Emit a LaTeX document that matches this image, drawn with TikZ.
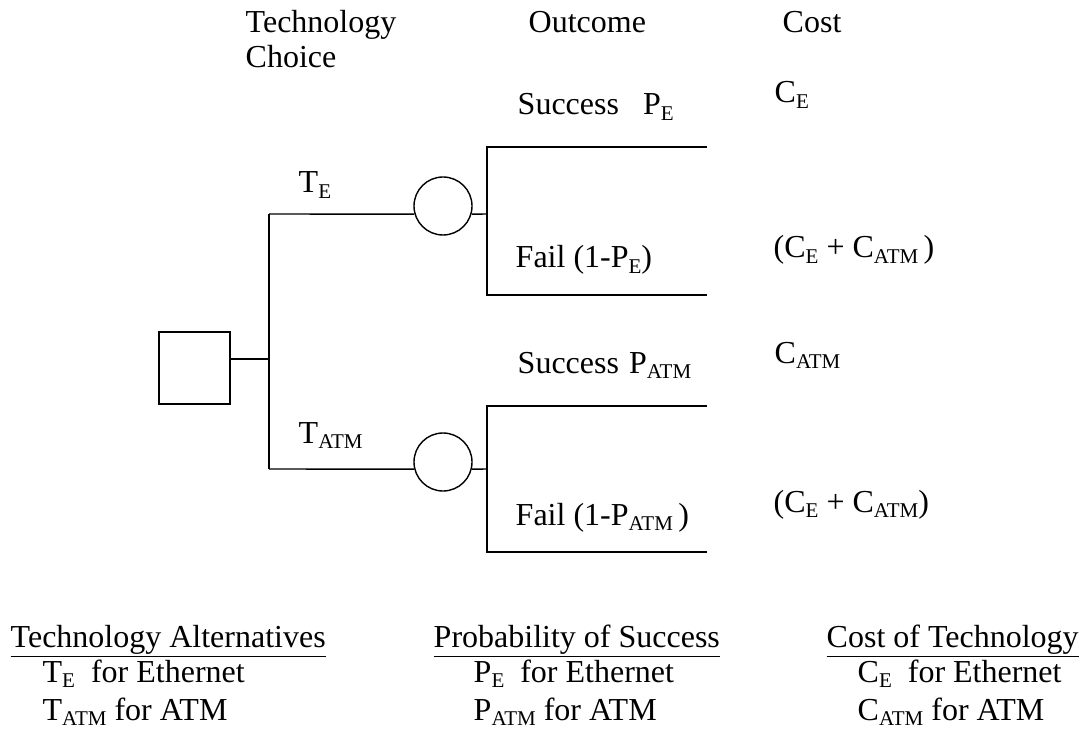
\documentclass[tikz,border=0pt]{standalone}
\usepackage{fontspec}
\setmainfont{Liberation Serif}
\usetikzlibrary{positioning}
\newcommand{\lo}[1]{\raisebox{-0.35ex}{\fontsize{10.5}{10.5}\selectfont #1}}
\begin{document}
\begin{tikzpicture}[x=0.5pt, y=-0.5pt, line width=0.7pt,
	every node/.style={font=\fontsize{16}{19}\selectfont, inner sep=0pt},
	txt/.style={anchor=base west},
	decision/.style={draw, rectangle, minimum width=35.5pt, minimum height=36pt},
	chance/.style={draw, circle, minimum size=29pt}]
	\useasboundingbox (0,0) rectangle (1085,732);
	
	% 1. decision and chance nodes
	\node[decision] (dec) at (194.5,368) {};
	\node[chance] (chE) at (443,206) {};
	\node[chance] (chA) at (443,462) {};
	
	\coordinate (fork) at (269,359);
	\coordinate (forkE) at (269,214);
	\coordinate (forkA) at (269,469);
	\coordinate (splitE) at (487,214);
	\coordinate (splitA) at (487,469);
	\coordinate (winE) at (487,147);
	\coordinate (failE) at (487,295);
	\coordinate (winA) at (487,406);
	\coordinate (failA) at (487,552);
	\coordinate (endx) at (707,0);
	
	% 2. branches
	\draw (fork -| dec.east) -- (fork);
	\draw (forkE) -- (forkA);
	\draw (forkE) -- (chE.196);
	\draw (forkA) -- (chA.194);
	\draw (chE.-16) -- (splitE);
	\draw (chA.-14) -- (splitA);
	\draw (winE -| endx) -- (winE) -- (failE) -- (failE -| endx);
	\draw (winA -| endx) -- (winA) -- (failA) -- (failA -| endx);
	
	% 3. column heads
	\node[txt] (hdTech) at (245,33) {Technology};
	\node[txt] (hdChoice) at (245,68) {Choice};
	\node[txt] (hdOut) at (528,33) {Outcome};
	\node[txt] (hdCost) at (782,33) {Cost};
	
	% 4. branch labels and costs
	\node[txt] (lbTE) at (298,193) {T\lo{E}};
	\node[txt] (lbTA) at (298,443) {T\lo{ATM}};
	\node[txt] (lbWinE) at (517,115) {Success\hspace{12pt}P\lo{E}};
	\node[txt] (lbFailE) at (515,268) {Fail (1-P\lo{E})};
	\node[txt] (lbWinA) at (517,373) {Success\hspace{5pt}P\lo{ATM}};
	\node[txt] (lbFailA) at (515,525) {Fail (1-P\lo{ATM}\,)};
	\node[txt] (cWinE) at (774,103) {C\lo{E}};
	\node[txt] (cFailE) at (773,258) {(C\lo{E} + C\lo{ATM}\,)};
	\node[txt] (cWinA) at (774,363) {C\lo{ATM}};
	\node[txt] (cFailA) at (773,512) {(C\lo{E} + C\lo{ATM})};
	
	% 5. legend
	\node[txt] (lgTech) at (10,647) {\underline{Technology Alternatives}};
	\node[txt] (lgTE) at (42,682) {T\lo{E}\ \ for Ethernet};
	\node[txt] (lgTA) at (42,720) {T\lo{ATM} for ATM};
	\node[txt] (lgProb) at (433,647) {\underline{Probability of Success}};
	\node[txt] (lgPE) at (473,682) {P\lo{E}\ \ for Ethernet};
	\node[txt] (lgPA) at (473,720) {P\lo{ATM} for ATM};
	\node[txt] (lgCost) at (826,647) {\underline{Cost of Technology}};
	\node[txt] (lgCE) at (857,682) {C\lo{E}\ \ for Ethernet};
	\node[txt] (lgCA) at (857,720) {C\lo{ATM} for ATM};
\end{tikzpicture}
\end{document}
